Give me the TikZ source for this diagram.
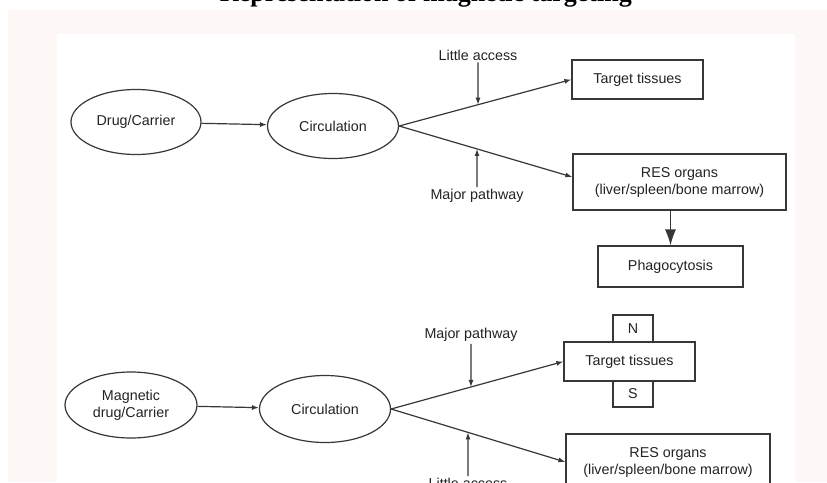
\documentclass[tikz,border=0pt]{standalone}
\usepackage{fontspec}
\setmainfont{Liberation Sans}
\newfontfamily\titlefont{Liberation Serif}
\usetikzlibrary{shapes.geometric,arrows.meta,calc}
\definecolor{bandpink}{RGB}{253,248,245}
\definecolor{inkgray}{RGB}{55,55,55}
\definecolor{textgray}{RGB}{35,35,35}
\begin{document}
\begin{tikzpicture}[x=1pt,y=-1pt,
  txt/.style={font=\fontsize{14.3}{17}\selectfont,text=textgray,align=center},
  oval/.style={ellipse,draw=inkgray,line width=1.2pt,inner sep=0pt,txt},
  box/.style={rectangle,draw=inkgray,line width=1.2pt,inner sep=0pt,txt},
  lbl/.style={txt,inner sep=2pt},
  flow/.style={draw=inkgray,line width=1.2pt,-{Latex[length=7pt,width=5pt]}},
  bigflow/.style={draw=inkgray,line width=1.2pt,-{Latex[length=16pt,width=11pt]}}
]
\useasboundingbox (0,0) rectangle (827,482);
\clip (0,0) rectangle (827,482);
\fill[white] (0,0) rectangle (827,482);
\fill[bandpink] (8,10) rectangle (827,482);
\fill[white] (57,34) rectangle (795,482);
\node[anchor=base east,inner sep=0pt,font=\titlefont\bfseries\fontsize{26}{30}\selectfont] (title) at (632,1) {Representation of magnetic targeting};

% top section
\node[oval,minimum width=130pt,minimum height=65pt] (drug) at (136,122) {Drug/Carrier};
\node[oval,minimum width=131pt,minimum height=65pt] (circ1) at (333,126) {Circulation};
\node[box,minimum width=131pt,minimum height=39pt] (tt1) at (637.5,79.5) {Target tissues};
\node[box,minimum width=213pt,minimum height=56pt] (res1) at (679.5,182) {RES organs\\(liver/spleen/bone marrow)};
\node[box,minimum width=145pt,minimum height=41pt] (phag) at (670.5,266.5) {Phagocytosis};
\node[lbl] (la1) at (478,55) {Little access};
\node[lbl] (mp1) at (477,196) {Major pathway};
\coordinate (r1in) at ([yshift=5pt]res1.west);

\draw[flow] (drug) -- (circ1);
\draw[flow] (circ1.east) -- (tt1.west);
\draw[flow] (circ1.east) -- (r1in);
\draw[bigflow] (phag.north |- res1.south) -- (phag.north);
\coordinate (p1) at (intersection cs: first line={(circ1.east)--(tt1.west)}, second line={(la1.south)--(la1.north)});
\coordinate (p2) at (intersection cs: first line={(circ1.east)--(r1in)}, second line={(mp1.south)--(mp1.north)});
\draw[flow] (la1.south) -- (p1);
\draw[flow] (mp1.north) -- (p2);

% bottom section
\node[oval,minimum width=132pt,minimum height=66pt] (mdrug) at (131,405) {Magnetic\\drug/Carrier};
\node[oval,minimum width=131pt,minimum height=67pt] (circ2) at (325,409) {Circulation};
\node[box,minimum width=131pt,minimum height=39pt] (tt2) at (629.5,361.5) {Target tissues};
\node[box,minimum width=40pt,minimum height=27pt] (north) at (633,328.5) {N};
\node[box,minimum width=40pt,minimum height=26pt] (south) at (633,394) {S};
\node[box,minimum width=204pt,minimum height=56pt] (res2) at (668,462) {RES organs\\(liver/spleen/bone marrow)};
\node[lbl] (mp2) at (471,335) {Major pathway};
\node[lbl] (la2) at (468,483.5) {Little access};

\draw[flow] (mdrug) -- (circ2);
\draw[flow] (circ2.east) -- (tt2.west);
\draw[flow] (circ2.east) -- (res2.west);
\coordinate (p3) at (intersection cs: first line={(circ2.east)--(tt2.west)}, second line={(mp2.south)--(mp2.north)});
\coordinate (p4) at (intersection cs: first line={(circ2.east)--(res2.west)}, second line={(la2.south)--(la2.north)});
\draw[flow] (mp2.south) -- (p3);
\draw[flow] (la2.north) -- (p4);
\end{tikzpicture}
\end{document}
